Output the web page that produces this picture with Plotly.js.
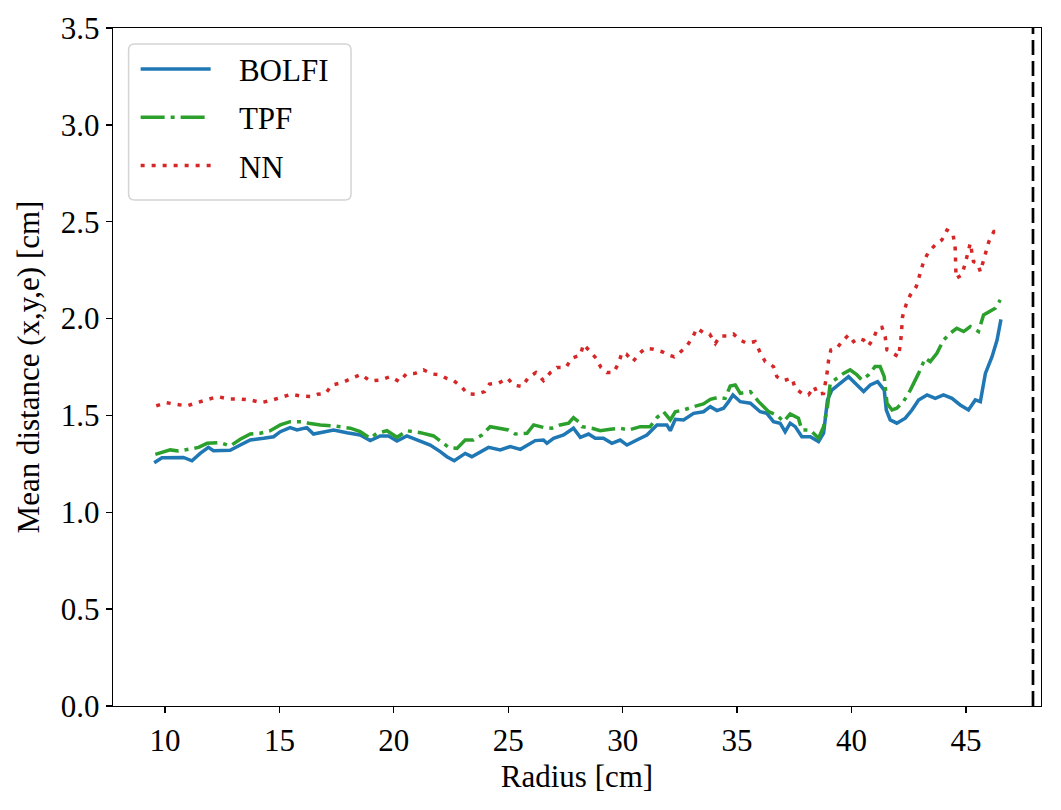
<!DOCTYPE html>
<html>
<head>
<meta charset="utf-8">
<script src="https://cdn.plot.ly/plotly-3.0.1.min.js"></script>
<style>
  body { margin: 0; background: white; }
  #chart { width: 1061px; height: 810px; }
</style>
</head>
<body>
<div id="chart"></div>
<script>
// values
const bolfiR = [9.53,9.87,10.81,11.18,11.54,11.9,12.12,12.85,13.29,13.73,14.31,14.75,15.04,
  15.47,15.77,16.2,16.49,16.86,17.37,17.95,18.53,18.97,19.41,19.77,20.14,20.57,21.01,21.59,
  22.03,22.32,22.64,23.12,23.41,23.92,24.14,24.65,25.09,25.53,25.82,26.18,26.54,26.69,26.98,
  27.42,27.85,28.15,28.51,28.8,29.16,29.53,29.89,30.19,30.62,31.06,31.5,31.93,32.08,32.3,
  32.66,33.1,33.53,33.83,34.12,34.41,34.63,34.82,
  35.14,35.58,36.01,36.3,36.59,36.88,37.1,37.32,37.54,37.83,38.2,38.56,38.78,38.95,39.14,
  39.51,39.87,40.24,40.53,40.82,41.14,41.43,41.52,41.69,41.98,42.35,42.64,42.93,43.3,43.66,
  44.02,44.39,44.75,45.11,45.41,45.63,45.85,46.14,46.36,46.53];
const bolfiD = [1.256,1.282,1.283,1.266,1.304,1.335,1.318,1.32,1.347,1.373,1.382,1.39,1.416,
  1.437,1.425,1.437,1.404,1.411,1.425,1.411,1.399,1.37,1.394,1.394,1.368,1.394,1.373,1.347,
  1.313,1.287,1.266,1.304,1.287,1.322,1.335,1.322,1.339,1.325,1.347,1.37,1.373,1.356,1.382,
  1.399,1.434,1.387,1.404,1.382,1.382,1.356,1.373,1.347,1.373,1.399,1.451,1.451,1.421,1.48,
  1.477,1.511,1.519,1.545,1.525,1.537,1.571,1.606,
  1.571,1.563,1.519,1.511,1.468,1.46,1.416,1.46,1.442,1.39,1.39,1.365,1.408,1.58,1.631,
  1.666,1.7,1.657,1.623,1.657,1.674,1.631,1.528,1.477,1.46,1.486,1.528,1.58,1.606,1.588,
  1.606,1.588,1.554,1.528,1.58,1.571,1.717,1.803,1.889,1.996];

const tpfR = [9.58,10.23,10.59,11.47,11.84,12.42,12.85,13.29,13.73,14.16,14.6,15.04,
  15.47,15.99,16.28,16.79,17.37,18.1,18.53,18.97,19.26,19.7,20.14,20.57,21.16,21.74,22.17,
  22.39,22.76,23.12,23.48,23.85,24.21,24.65,25.01,25.31,25.82,26.11,26.54,26.91,27.27,27.64,
  27.85,28.07,28.22,28.66,29.02,29.46,29.89,30.26,30.77,31.2,31.5,31.79,32.08,32.3,32.66,
  33.1,33.53,33.83,34.19,34.48,34.7,34.92,
  35.14,35.58,35.94,36.38,36.74,37.03,37.32,37.68,37.83,38.2,38.56,38.78,38.95,39.07,39.36,
  39.65,39.94,40.24,40.45,40.74,41.03,41.25,41.43,41.55,41.77,41.98,42.27,42.57,42.93,43.22,
  43.44,43.73,44.02,44.31,44.6,44.9,45.19,45.55,45.77,46.06,46.28,46.5];
const tpfD = [1.299,1.322,1.316,1.335,1.356,1.36,1.342,1.377,1.404,1.408,1.421,1.451,
  1.468,1.468,1.46,1.451,1.446,1.434,1.416,1.382,1.408,1.421,1.387,1.421,1.411,1.394,1.356,
  1.335,1.33,1.373,1.373,1.399,1.442,1.434,1.425,1.404,1.408,1.451,1.438,1.434,1.451,1.46,
  1.489,1.468,1.442,1.434,1.421,1.429,1.434,1.425,1.442,1.442,1.489,1.519,1.477,1.519,1.528,
  1.545,1.559,1.583,1.594,1.588,1.652,1.657,
  1.614,1.623,1.571,1.519,1.502,1.468,1.508,1.486,1.425,1.425,1.382,1.442,1.545,1.666,1.692,
  1.717,1.735,1.709,1.683,1.709,1.752,1.752,1.7,1.563,1.528,1.537,1.571,1.631,1.717,1.795,
  1.778,1.821,1.889,1.924,1.95,1.933,1.958,1.933,2.019,2.036,2.053,2.096];

const nnR = [9.62,10.06,10.52,10.96,11.4,11.84,12.3,12.78,13.26,13.73,14.19,14.6,
  15.04,15.5,15.94,16.37,16.67,17.02,17.3,17.73,18.17,18.56,18.97,19.41,19.84,20.25,20.54,
  20.94,21.3,21.67,22.03,22.29,22.61,22.98,23.22,23.6,23.97,24.18,24.58,24.97,25.23,25.6,
  25.89,26.21,26.54,26.84,27.13,27.52,27.78,28.15,28.29,28.61,28.84,29.05,29.31,29.6,29.82,
  29.97,30.16,30.45,30.74,30.99,31.35,31.72,32.0,32.25,32.49,32.81,33.07,33.25,33.53,33.8,
  34.05,34.26,34.58,34.84,35.14,35.43,35.79,36.01,36.23,36.59,36.74,37.03,37.4,37.54,37.83,
  38.12,38.37,38.52,38.78,38.93,39.0,39.1,39.36,39.58,39.87,40.09,40.31,40.53,40.74,40.96,
  41.14,41.33,41.47,41.55,41.77,42.06,42.17,42.23,42.38,42.57,42.83,43.0,43.15,43.37,43.66,
  43.95,44.17,44.43,44.53,44.57,44.82,44.97,45.19,45.33,45.51,45.63,45.85,46.0,46.22,46.48];
const nnD = [1.549,1.566,1.557,1.549,1.566,1.583,1.597,1.585,1.585,1.58,1.566,1.576,
  1.594,1.609,1.6,1.597,1.609,1.614,1.657,1.669,1.692,1.712,1.678,1.683,1.7,1.674,1.714,
  1.717,1.735,1.714,1.709,1.692,1.68,1.645,1.611,1.609,1.623,1.662,1.667,1.692,1.657,1.649,
  1.697,1.721,1.68,1.721,1.748,1.748,1.795,1.812,1.867,1.824,1.795,1.748,1.721,1.721,1.769,
  1.824,1.817,1.778,1.821,1.846,1.842,1.829,1.812,1.803,1.824,1.859,1.907,1.95,1.927,1.92,
  1.872,1.91,1.91,1.92,1.889,1.872,1.881,1.824,1.778,1.752,1.7,1.68,1.692,1.64,1.614,
  1.606,1.649,1.609,1.614,1.717,1.786,1.838,1.846,1.881,1.915,1.881,1.898,1.889,1.859,1.898,
  1.95,1.955,1.907,1.838,1.821,1.803,1.907,2.01,2.07,2.122,2.165,2.237,2.294,2.345,2.38,
  2.406,2.457,2.44,2.363,2.208,2.225,2.285,2.389,2.294,2.285,2.242,2.337,2.397,2.449,2.449];

const maxRadius = [47.93];
const seriesNames = ['BOLFI', 'TPF', 'NN'];
const xTicks = [10, 15, 20, 25, 30, 35, 40, 45];
const yTicks = [0, 0.5, 1, 1.5, 2, 2.5, 3, 3.5];

const FONT = 'Liberation Serif, DejaVu Serif, serif';
const PAD = '\u00a0\u00a0\u00a0';  // gap between legend line and label

const traces = [
  {x: bolfiR, y: bolfiD, name: PAD + seriesNames[0], legendgroup: 'a', mode: 'lines',
   line: {color: '#1f77b4', width: 3.5}},
  {x: tpfR, y: tpfD, name: PAD + seriesNames[1], legendgroup: 'b', mode: 'lines',
   line: {color: '#2ca02c', width: 3.5, dash: '24px,6px,4px,6px'}},
  {x: nnR, y: nnD, name: PAD + seriesNames[2], legendgroup: 'c', mode: 'lines',
   line: {color: '#d62728', width: 3.5, dash: '4px,7px'}}
];

// rounded legend frame, in paper units
function roundBox(x0, y0, x1, y1, rx, ry) {
  return 'M' + (x0 + rx) + ',' + y1 +
    ' L' + (x1 - rx) + ',' + y1 + ' Q' + x1 + ',' + y1 + ' ' + x1 + ',' + (y1 - ry) +
    ' L' + x1 + ',' + (y0 + ry) + ' Q' + x1 + ',' + y0 + ' ' + (x1 - rx) + ',' + y0 +
    ' L' + (x0 + rx) + ',' + y0 + ' Q' + x0 + ',' + y0 + ' ' + x0 + ',' + (y0 + ry) +
    ' L' + x0 + ',' + (y1 - ry) + ' Q' + x0 + ',' + y1 + ' ' + (x0 + rx) + ',' + y1 + ' Z';
}

const layout = {
  width: 1061,
  height: 810,
  paper_bgcolor: 'white',
  plot_bgcolor: 'white',
  font: {family: FONT, size: 31, color: 'black'},
  margin: {l: 113, r: 20, t: 28, b: 104},
  showlegend: true,
  legend: {
    x: 0.0244, y: 0.979, xanchor: 'left', yanchor: 'top',
    bgcolor: 'rgba(0,0,0,0)', borderwidth: 0,
    font: {family: FONT, size: 31},
    itemwidth: 70, traceorder: 'grouped', tracegroupgap: 5
  },
  xaxis: {
    range: [7.73, 48.28],
    tickvals: xTicks,
    ticks: 'outside', ticklen: 6, tickwidth: 1.3, tickcolor: 'black',
    showline: true, linecolor: 'black', linewidth: 1.3, mirror: true,
    showgrid: false, zeroline: false,
    title: {text: 'Radius [cm]', font: {family: FONT, size: 31}, standoff: 8}
  },
  yaxis: {
    range: [0, 3.5],
    tickvals: yTicks,
    tickformat: '.1f',
    ticks: 'outside', ticklen: 6, tickwidth: 1.3, tickcolor: 'black',
    showline: true, linecolor: 'black', linewidth: 1.3, mirror: true,
    showgrid: false, zeroline: false,
    title: {text: 'Mean distance (x,y,e) [cm]', font: {family: FONT, size: 31}, standoff: 12}
  },
  shapes: [
    {type: 'line', xref: 'x', yref: 'paper', x0: maxRadius[0], x1: maxRadius[0], y0: 0, y1: 1,
     line: {color: 'black', width: 2.7, dash: '15px,6px'}},
    {type: 'path', xref: 'paper', yref: 'paper', layer: 'above',
     path: roundBox(0.0168, 0.7463, 0.2565, 0.9764, 0.0065, 0.0089),
     fillcolor: 'white', line: {color: '#d4d4d4', width: 1.5}}
  ]
};

Plotly.newPlot('chart', traces, layout, {displayModeBar: false, staticPlot: true});
</script>
</body>
</html>
